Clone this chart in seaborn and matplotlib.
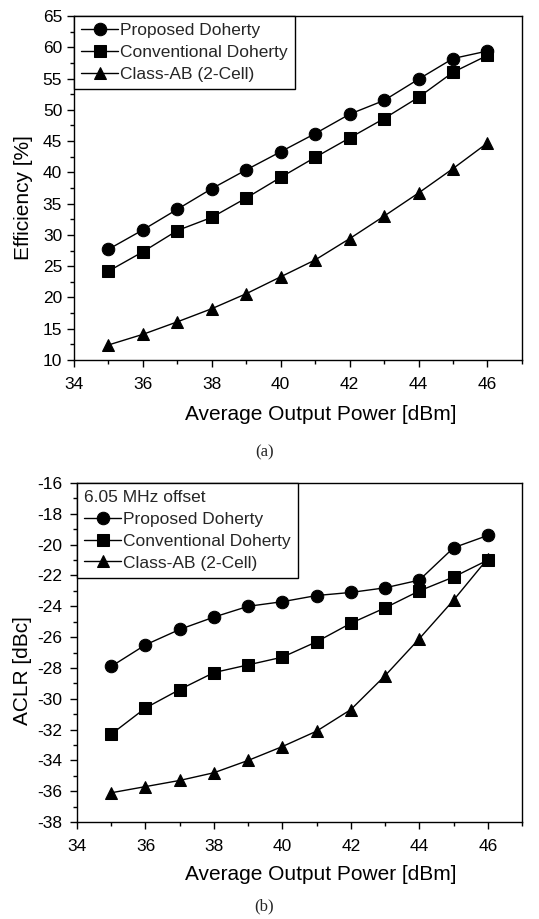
import matplotlib
matplotlib.use("Agg")
import matplotlib.pyplot as plt
import seaborn as sns
import pandas as pd
from matplotlib.ticker import MultipleLocator

sns.set_theme(style="ticks")
plt.rcParams['font.family'] = ['Liberation Sans', 'DejaVu Sans']
plt.rcParams['axes.unicode_minus'] = False

power = [35, 36, 37, 38, 39, 40, 41, 42, 43, 44, 45, 46]
series = ["Proposed Doherty", "Conventional Doherty", "Class-AB (2-Cell)"]
markers = ["o", "s", "^"]

eff_proposed = [27.7, 30.8, 34.1, 37.4, 40.4, 43.3, 46.2, 49.3, 51.5, 54.9, 58.2, 59.4]
eff_conventional = [24.2, 27.3, 30.7, 32.8, 35.9, 39.2, 42.4, 45.5, 48.6, 52.0, 56.0, 58.7]
eff_classab = [12.4, 14.1, 16.1, 18.2, 20.6, 23.3, 26.0, 29.4, 33.0, 36.7, 40.6, 44.7]

aclr_proposed = [-27.9, -26.5, -25.5, -24.7, -24.0, -23.7, -23.3, -23.1, -22.8, -22.3, -20.2, -19.4]
aclr_conventional = [-32.3, -30.6, -29.4, -28.3, -27.8, -27.3, -26.3, -25.1, -24.1, -23.0, -22.1, -21.0]
aclr_classab = [-36.1, -35.7, -35.3, -34.8, -34.0, -33.1, -32.1, -30.7, -28.5, -26.1, -23.6, -20.9]

fig = plt.figure(figsize=(5.39, 9.19), dpi=100)
ax1 = fig.add_axes([0.1373, 0.6083, 0.8310, 0.3743])
ax2 = fig.add_axes([0.1429, 0.1055, 0.8256, 0.3689])


def draw(ax, ys, ylim, ymaj, ymin, ylabel, ypad, xl_pos, yl_pos, title=None):
    for name, mk, y in zip(series, markers, ys):
        sns.lineplot(x=power, y=y, ax=ax, color="black", marker=mk, markersize=9,
                     linewidth=1.0, markeredgecolor="black", label=name)
    ax.set_xlim(34, 47)
    ax.set_ylim(*ylim)
    ax.xaxis.set_major_locator(MultipleLocator(2))
    ax.xaxis.set_minor_locator(MultipleLocator(1))
    ax.yaxis.set_major_locator(MultipleLocator(ymaj))
    ax.yaxis.set_minor_locator(MultipleLocator(ymin))
    ax.tick_params(which="both", direction="out", top=False, right=False,
                   color="black", width=1.0)
    ax.tick_params(which="major", length=5, labelsize=12.5, labelcolor="black")
    ax.tick_params(which="minor", length=3)
    ax.tick_params(axis="x", which="major", pad=7)
    ax.tick_params(axis="y", which="major", pad=ypad)
    for s in ax.spines.values():
        s.set_color("black")
        s.set_linewidth(1.0)
    ax.set_xlabel("Average Output Power [dBm]", fontsize=15, color="black")
    ax.set_ylabel(ylabel, fontsize=15, color="black")
    ax.xaxis.set_label_coords(*xl_pos)
    ax.yaxis.set_label_coords(*yl_pos)
    leg = ax.legend(loc="upper left", title=title, fontsize=12.5, title_fontsize=12.5,
                    fancybox=False, framealpha=1, edgecolor="black",
                    borderaxespad=0, handlelength=2.1, handletextpad=0.15,
                    labelspacing=0.38, borderpad=0.42, alignment="left")
    leg.get_frame().set_linewidth(1.0)


draw(ax1, [eff_proposed, eff_conventional, eff_classab], (10, 65), 5, 2.5,
     "Efficiency [%]", 3.5, (0.551, -0.131), (-0.092, 0.472))
draw(ax2, [aclr_proposed, aclr_conventional, aclr_classab], (-38, -16), 2, 1,
     "ACLR [dBc]", 5.5, (0.547, -0.127), (-0.101, 0.448), title="6.05 MHz offset")

fig.text(0.49, 1 - 452 / 919, "(a)", ha="center", va="center",
         fontsize=12, family="Liberation Serif")
fig.text(0.49, 1 - 906 / 919, "(b)", ha="center", va="center",
         fontsize=12, family="Liberation Serif")

fig.savefig("out.png", dpi=100, facecolor="white")
